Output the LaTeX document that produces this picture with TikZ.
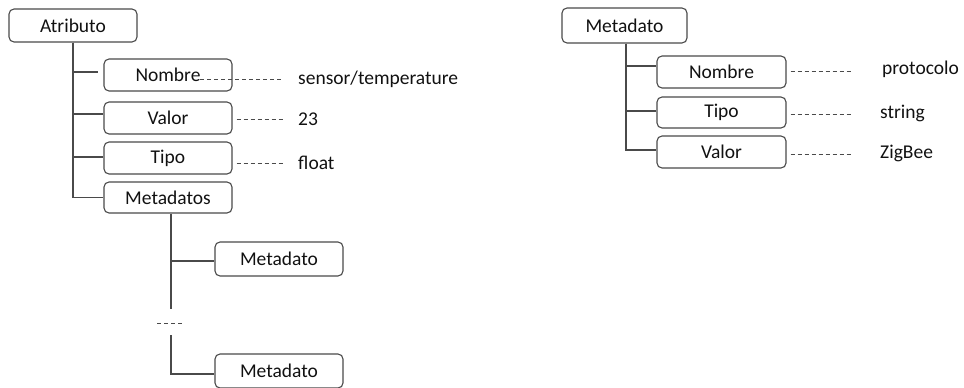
\documentclass[tikz,border=0pt]{standalone}
\usepackage{fontspec}
\setmainfont{Carlito}
\begin{document}
\begin{tikzpicture}[x=1pt,y=-1pt,
  box/.style={draw=linec, line width=1.1pt, rounded corners=5pt, minimum width=128pt, minimum height=32pt, inner sep=0pt, text=textc, font=\fontsize{19.5}{23}\selectfont},
  val/.style={anchor=west, inner sep=0pt, text=textc, font=\fontsize{19.5}{23}\selectfont},
  tree/.style={draw=linec, line width=1.2pt},
  dashline/.style={draw=linec, line width=1pt, dash pattern=on 4pt off 3pt}
]
\definecolor{linec}{HTML}{4a4a4a}
\definecolor{textc}{HTML}{111111}
\useasboundingbox (0,0) rectangle (964,388);

% Left tree
\node[box, minimum height=33pt] (atr) at (73,25.5) {Atributo};
\node[box] (nom) at (168,75) {Nombre};
\node[box] (val) at (168,118) {Valor};
\node[box] (tip) at (168,158) {Tipo};
\node[box, minimum height=31pt] (mds) at (168,197.5) {Metadatos};
\node[box, minimum height=34pt] (md1) at (279,259) {Metadato};
\node[box, minimum height=34pt] (md2) at (279,371) {Metadato};

\node[val] (lnom) at (298,79) {sensor/temperature};
\node[val] (lval) at (298,119) {23};
\node[val] (ltip) at (298,163) {float};
\coordinate (dl) at (157,323);
\coordinate (dr) at (184,323);
\draw[dashline] (dl) -- (dr);

\coordinate (nomend) at (98,72);
\draw[tree] (atr.south) |- (nomend);
\draw[tree] (atr.south) |- ([yshift=4pt]val.west);
\draw[tree] (atr.south) |- ([yshift=1pt]tip.west);
\draw[tree] (atr.south) |- (mds.west);

\draw[tree] ([xshift=3pt]mds.south) -- ([xshift=3pt]mds.south |- 0,309);
\draw[tree] ([xshift=3pt]mds.south |- 0,261) -- (md1.west |- 0,261);
\draw[tree] ([xshift=3pt]mds.south |- 0,335) |- (md2.west |- 0,374);

\draw[dashline] (200,79) -- ([xshift=-15pt]lnom.west);
\draw[dashline] ([xshift=4pt]val.east |- lval.west) -- ([xshift=-15pt]lval.west);
\draw[dashline] ([xshift=4pt]tip.east |- ltip.west) -- ([xshift=-15pt]ltip.west);

% Right tree
\node[box, minimum width=125pt, minimum height=35pt] (rmd) at (624.5,25.5) {Metadato};
\node[box, minimum width=129pt] (rnom) at (721.5,72) {Nombre};
\node[box, minimum width=129pt, minimum height=31pt] (rtip) at (721.5,112.5) {Tipo};
\node[box, minimum width=129pt] (rval) at (721.5,152) {Valor};

\node[val] (lrnom) at (882,69) {protocolo};
\node[val] (lrtip) at (880,113) {string};
\node[val] (lrval) at (880,153) {ZigBee};

\draw[tree] ([xshift=1.5pt]rmd.south) |- ([yshift=6pt]rnom.west);
\draw[tree] ([xshift=1.5pt]rmd.south) |- ([yshift=1.5pt]rtip.west);
\draw[tree] ([xshift=1.5pt]rmd.south) |- ([yshift=2pt]rval.west);

\draw[dashline] ([xshift=4pt]rnom.east |- 0,71) -- (853,71);
\draw[dashline] ([xshift=4pt]rtip.east |- 0,114) -- (853,114);
\draw[dashline] ([xshift=4pt]rval.east |- 0,154) -- (853,154);
\end{tikzpicture}
\end{document}
